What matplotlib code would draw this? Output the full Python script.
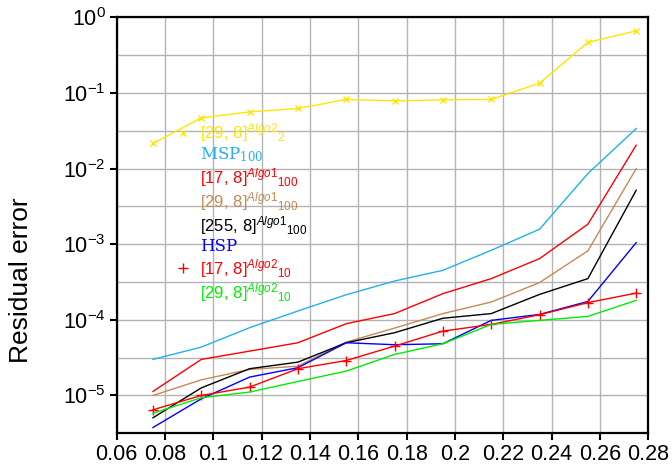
"""
Residual error vs. parameter for the MSP/HSP and [n, 8] runs.
"""

import matplotlib
matplotlib.use("Agg")
import matplotlib.pyplot as plt
import matplotlib.ticker as mticker
import numpy as np

plt.rcParams["font.family"] = ["Liberation Sans", "DejaVu Sans"]
plt.rcParams["mathtext.fontset"] = "custom"
plt.rcParams["mathtext.rm"] = "Liberation Sans"
plt.rcParams["mathtext.it"] = "Liberation Sans:italic"
plt.rcParams["mathtext.sf"] = "Liberation Sans"

x = [0.075, 0.095, 0.115, 0.135, 0.155, 0.175, 0.195, 0.215, 0.235, 0.255, 0.275]

algo2_29_2 = [2.15e-2, 4.69e-2, 5.62e-2, 6.24e-2, 8.22e-2, 7.87e-2, 8.11e-2, 8.22e-2, 0.135, 0.467, 0.665]
msp_100 = [3.0e-5, 4.36e-5, 7.88e-5, 1.31e-4, 2.15e-4, 3.26e-4, 4.52e-4, 8.31e-4, 1.58e-3, 8.6e-3, 3.39e-2]
algo1_17_100 = [1.13e-5, 3.0e-5, 3.86e-5, 4.98e-5, 8.9e-5, 1.21e-4, 2.22e-4, 3.51e-4, 6.45e-4, 1.84e-3, 2.04e-2]
algo1_29_100 = [1.0e-5, 1.61e-5, 2.21e-5, 2.44e-5, 5.08e-5, 7.78e-5, 1.21e-4, 1.72e-4, 3.11e-4, 8.18e-4, 1.0e-2]
algo1_255_100 = [5.07e-6, 1.26e-5, 2.26e-5, 2.76e-5, 4.98e-5, 6.76e-5, 1.05e-4, 1.21e-4, 2.17e-4, 3.51e-4, 5.17e-3]
hsp = [3.77e-6, 9.04e-6, 1.75e-5, 2.33e-5, 4.98e-5, 4.69e-5, 4.83e-5, 9.84e-5, 1.18e-4, 1.75e-4, 1.05e-3]
algo2_17_10 = [6.47e-6, 1.0e-5, 1.29e-5, 2.26e-5, 2.9e-5, 4.5e-5, 7.1e-5, 8.7e-5, 1.17e-4, 1.69e-4, 2.26e-4]
algo2_29_10 = [5.83e-6, 9.33e-6, 1.11e-5, 1.53e-5, 2.1e-5, 3.49e-5, 4.83e-5, 8.7e-5, 9.84e-5, 1.11e-4, 1.81e-4]

x_ticks = [0.06, 0.08, 0.1, 0.12, 0.14, 0.16, 0.18, 0.2, 0.22, 0.24, 0.26, 0.28]
x_ticklabels = ["0.06", "0.08", "0.1", "0.12", "0.14", "0.16", "0.18", "0.2", "0.22", "0.24", "0.26", "0.28"]

series = [
    (algo2_29_2, r"$[29,\,8]^{Algo2}{}_{2}$", "#ffe600", "x", "sans"),
    (msp_100, r"MSP$_{\mathdefault{100}}$", "#22b1ea", None, "serif"),
    (algo1_17_100, r"$[17,\,8]^{Algo1}{}_{100}$", "#ff0000", None, "sans"),
    (algo1_29_100, r"$[29,\,8]^{Algo1}{}_{100}$", "#c48a55", None, "sans"),
    (algo1_255_100, r"$[255,\,8]^{Algo1}{}_{100}$", "#000000", None, "sans"),
    (hsp, "HSP", "#0000ff", None, "serif"),
    (algo2_17_10, r"$[17,\,8]^{Algo2}{}_{10}$", "#ff0000", "+", "sans"),
    (algo2_29_10, r"$[29,\,8]^{Algo2}{}_{10}$", "#00ee00", None, "sans"),
]


def plot_residuals(save_path="out.png"):
    fig = plt.figure(figsize=(6.72, 4.67), dpi=100)
    ax = fig.add_axes([0.1737, 0.0722, 0.791, 0.8906])

    for values, label, color, marker, _ in series:
        ax.plot(
            x, values, color=color, linewidth=1.0, label=label,
            marker=marker, markersize=7 if marker == "+" else 5,
            markeredgewidth=1.0,
        )

    ax.set_yscale("log")
    ax.set_xlim(0.06, 0.28)
    ax.set_ylim(10 ** -5.5, 1.0)

    ax.set_xticks(x_ticks)
    ax.set_xticklabels(x_ticklabels)
    ax.yaxis.set_major_locator(mticker.LogLocator(base=10, numticks=10))
    # grid at every half decade, ticks only on the decades
    ax.yaxis.remove_overlapping_locs = False
    ax.yaxis.set_minor_locator(mticker.FixedLocator(10.0 ** np.arange(-5.5, 0.1, 0.5)))
    ax.yaxis.set_minor_formatter(mticker.NullFormatter())
    ax.tick_params(which="minor", length=0)
    ax.tick_params(which="major", direction="out", length=5, width=1.5,
                   labelsize=15.5, pad=3)

    ax.grid(True, which="major", axis="x", color="#b4b4b4", linewidth=1.0)
    ax.grid(True, which="minor", axis="y", color="#b4b4b4", linewidth=1.0)
    ax.set_axisbelow(True)

    for spine in ax.spines.values():
        spine.set_linewidth(1.6)
        spine.set_color("black")

    ax.set_ylabel("Residual error", fontsize=19)
    ax.yaxis.set_label_coords(-0.157, 0.368)

    leg = ax.legend(
        loc="upper left",
        bbox_to_anchor=(0.125, 0.75),
        frameon=False,
        fontsize=12,
        handlelength=0,
        handletextpad=1.0,
        borderpad=0,
        borderaxespad=0,
        labelspacing=0.08,
        labelcolor="linecolor",
    )
    for text, (_, _, _, _, style) in zip(leg.get_texts(), series):
        if style == "serif":
            text.set_family(["DejaVu Serif"])

    fig.savefig(save_path, dpi=100)
    plt.close(fig)


plot_residuals()
